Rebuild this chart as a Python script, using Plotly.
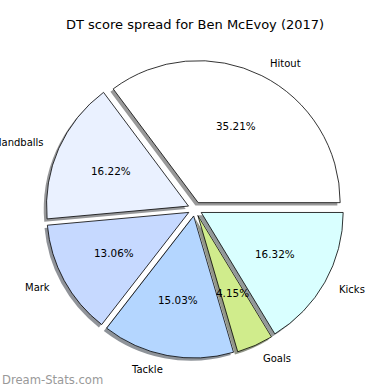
import numpy as np
import plotly.graph_objects as go

title = "DT score spread for Ben McEvoy (2017)"
labels = ["Hitout", "Handballs", "Mark", "Tackle", "Goals", "Kicks"]
values = [35.21, 16.22, 13.06, 15.03, 4.15, 16.32]
colors = ["#ffffff", "#eaf1ff", "#c6d9ff", "#b4d6ff", "#d0ec8c", "#d9ffff"]
watermark = "Dream-Stats.com"

W = H = 390
cx, cy = 195.0, 209.0          # pie centre in px (from top-left)
R = 142.0                      # pie radius in px
PULL = 0.05
half = R * (1 + PULL)
SH = 2.8                       # shadow offset px

vals = np.array(values)
frac = vals / vals.sum()
# plotly's counterclockwise mode places the far edge of the first slice at `rotation`
ROT = 90 - 360 * frac[0]


def shade(hexc):
    h = hexc.lstrip("#")
    rgb = [int(h[i:i + 2], 16) for i in (0, 2, 4)]
    out = [round(255 * 0.45 + 0.15 * c) for c in rgb]
    return "rgb({},{},{})".format(*out)


def dom(dx=0.0, dy=0.0):
    x0 = (cx + dx - half) / W
    x1 = (cx + dx + half) / W
    yc = H - (cy + dy)
    return dict(x=[x0, x1], y=[(yc - half) / H, (yc + half) / H])


common = dict(values=values, labels=labels, sort=False, direction="counterclockwise",
              rotation=ROT, pull=[PULL] * len(values), textinfo="none",
              hoverinfo="skip", showlegend=False)

fig = go.Figure()
fig.add_trace(go.Pie(**common, domain=dom(-SH, SH),
                     marker=dict(colors=[shade(c) for c in colors], line=dict(width=0))))
fig.add_trace(go.Pie(**common, domain=dom(),
                     marker=dict(colors=colors, line=dict(color="black", width=0.8))))

# text positions derived from the data (matplotlib-like placement)
ends = np.cumsum(frac) * 360
starts = ends - frac * 360
mids = np.deg2rad((starts + ends) / 2)

ann = []
for lab, v, a in zip(labels, values, mids):
    ca, sa = np.cos(a), np.sin(a)
    d = (0.6 + PULL) * R
    px, py = cx + d * ca, cy - d * sa
    ann.append(dict(x=px / W, y=(H - py) / H, xref="paper", yref="paper",
                    text=f"{v:.2f}%", showarrow=False, xanchor="center", yanchor="middle",
                    font=dict(size=10.4, color="black", family="DejaVu Sans")))
    d = (1.1 + PULL) * R
    lx, ly = cx + d * ca, cy - d * sa
    ann.append(dict(x=lx / W, y=(H - ly) / H, xref="paper", yref="paper",
                    text=lab, showarrow=False, xanchor="left" if ca > 0 else "right",
                    yanchor="middle",
                    font=dict(size=10, color="black", family="DejaVu Sans")))

ann.append(dict(x=0, y=(H - 379.5) / H, xref="paper", yref="paper", text=watermark,
                showarrow=False, xanchor="left", yanchor="middle",
                font=dict(size=11.6, color="#999999", family="DejaVu Sans")))
ann.append(dict(x=0.5, y=(H - 25) / H, xref="paper", yref="paper", text=title,
                showarrow=False, xanchor="center", yanchor="middle",
                font=dict(size=13, color="black", family="DejaVu Sans")))

fig.update_layout(width=W, height=H, margin=dict(l=0, r=0, t=0, b=0),
                  paper_bgcolor="white", plot_bgcolor="white", annotations=ann)
fig.write_html("out.html", config={"displayModeBar": False},
               post_script="document.body.style.margin='0';")
